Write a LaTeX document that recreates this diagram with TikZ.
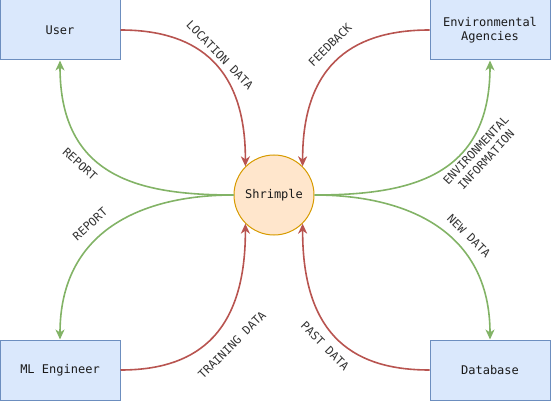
\documentclass[tikz,border=0pt]{standalone}
\usepackage{fontspec}
\setmonofont{DejaVu Sans Mono}
\usetikzlibrary{arrows.meta}
\definecolor{boxfill}{HTML}{DAE8FC}
\definecolor{boxline}{HTML}{6C8EBF}
\definecolor{cfill}{HTML}{FFE6CC}
\definecolor{cline}{HTML}{D79B00}
\definecolor{redline}{HTML}{B85450}
\definecolor{greenline}{HTML}{82B366}
\definecolor{txt}{HTML}{1A1A1A}
\definecolor{lbl}{HTML}{333333}
\tikzset{
  entity/.style={draw=boxline, fill=boxfill, line width=1pt, minimum width=120pt, minimum height=60pt, inner sep=0pt, font=\ttfamily\fontsize{12}{14.5}\selectfont, text=txt, align=center},
  proc/.style={circle, draw=cline, fill=cfill, line width=1pt, minimum size=80pt, inner sep=0pt, font=\ttfamily\fontsize{12}{14.5}\selectfont, text=txt},
  redflow/.style={draw=redline, line width=1.6pt, -{Stealth[length=10pt,width=9pt,inset=3pt]}},
  greenflow/.style={draw=greenline, line width=1.6pt, -{Stealth[length=10pt,width=9pt,inset=3pt]}},
  flowlabel/.style={font=\ttfamily\fontsize{11.5}{14}\selectfont, text=lbl, align=center, inner sep=0pt}
}
\begin{document}
\begin{tikzpicture}[x=1pt,y=-1pt]
\useasboundingbox (0,0) rectangle (551,401);
\node[entity] (user) at (60,30) {User};
\node[entity] (env) at (490,30) {Environmental\\Agencies};
\node[entity] (ml) at (60,370) {ML Engineer};
\node[entity] (db) at (490,370) {Database};
\node[proc] (s) at (274,195) {Shrimple};

\draw[redflow] (user.east) .. controls (190,30) and (245.7,60) .. (s.135);
\draw[redflow] (env.west) .. controls (358,30) and (302.3,60) .. (s.45);
\draw[greenflow] (s.west) .. controls (140,195) and (60,178) .. (user.south);
\draw[greenflow] (s.west) .. controls (140,195) and (60,232) .. (ml.north);
\draw[greenflow] (s.east) .. controls (408,195) and (490,178) .. (env.south);
\draw[greenflow] (s.east) .. controls (408,195) and (490,232) .. (db.north);
\draw[redflow] (ml.east) .. controls (190,370) and (245.7,340) .. (s.225);
\draw[redflow] (db.west) .. controls (358,370) and (302.3,340) .. (s.315);

\node[flowlabel, rotate=-46] (l1) at (220,55) {LOCATION DATA};
\node[flowlabel, rotate=45] (l2) at (330,45) {FEEDBACK};
\node[flowlabel, rotate=-42] (l3) at (80,164) {REPORT};
\node[flowlabel, rotate=42] (l4) at (90,224) {REPORT};
\node[flowlabel, rotate=47] (l5) at (481,155) {ENVIRONMENTAL\\INFORMATION};
\node[flowlabel, rotate=-45] (l6) at (469,236) {NEW DATA};
\node[flowlabel, rotate=45] (l7) at (232,345) {TRAINING DATA};
\node[flowlabel, rotate=-45] (l8) at (325,346) {PAST DATA};
\end{tikzpicture}
\end{document}
